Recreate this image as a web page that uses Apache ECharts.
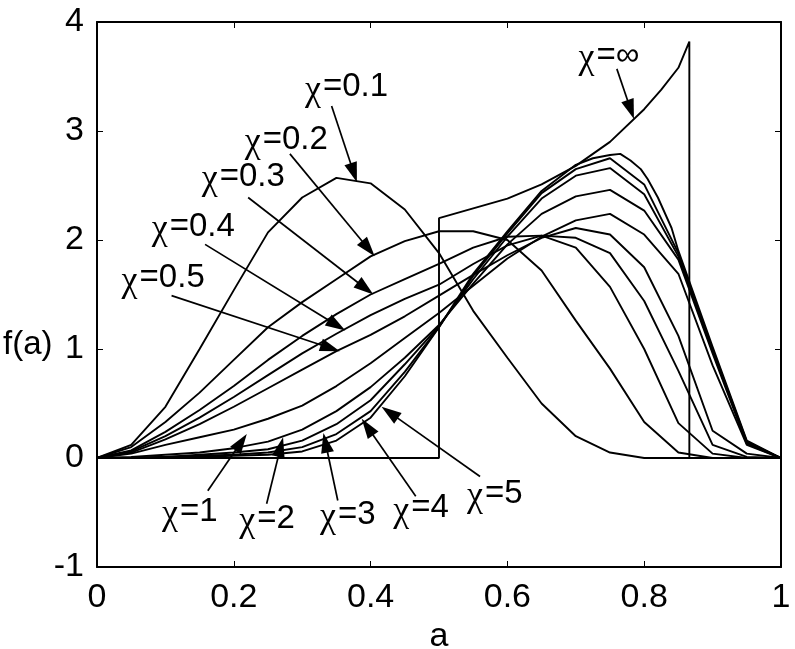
<!DOCTYPE html>
<html><head><meta charset="utf-8">
<script src="https://cdn.jsdelivr.net/npm/echarts@6/dist/echarts.min.js"></script>
<style>html,body{margin:0;padding:0;background:#fff}#c{width:795px;height:649px}</style>
</head><body><div id="c"></div>
<script>
// shared abscissa (a) for sampled curves
const A = [0,0.05,0.1,0.15,0.2,0.25,0.3,0.35,0.4,0.45,0.5,0.55,0.6,0.65,0.7,0.75,0.8,0.85,0.9,0.95,1];
const chi01 = [0,0.12,0.47,1.00,1.54,2.07,2.39,2.57,2.52,2.28,1.88,1.35,0.92,0.50,0.20,0.05,0,0,0,0,0];
const chi02 = [0,0.10,0.33,0.60,0.90,1.20,1.43,1.64,1.85,1.99,2.08,2.08,2.00,1.72,1.26,0.82,0.33,0.05,0,0,0];
const chi03 = [0,0.07,0.24,0.44,0.66,0.90,1.12,1.32,1.50,1.64,1.78,1.93,2.03,2.04,1.93,1.57,1.00,0.32,0.04,0,0];
const chi04 = [0,0.06,0.20,0.37,0.56,0.76,0.96,1.14,1.31,1.46,1.59,1.78,1.95,2.04,2.02,1.88,1.44,0.80,0.12,0.01,0];
const chi05 = [0,0.05,0.17,0.31,0.47,0.64,0.81,0.98,1.13,1.30,1.49,1.68,1.86,2.02,2.11,2.05,1.75,1.12,0.25,0.04,0];
const chi1  = [0,0.04,0.12,0.19,0.26,0.36,0.48,0.66,0.87,1.10,1.33,1.58,1.83,2.03,2.18,2.24,2.05,1.69,0.85,0.12,0];
const chi2  = [0,0.01,0.03,0.05,0.09,0.15,0.26,0.43,0.65,0.92,1.22,1.60,1.96,2.24,2.40,2.46,2.27,1.82,0.96,0.13,0];
const chi3  = [0,0,0.01,0.03,0.05,0.08,0.16,0.31,0.53,0.86,1.21,1.64,2.03,2.38,2.59,2.66,2.42,1.85,0.98,0.14,0];
const chi4  = [0,0,0.01,0.02,0.03,0.05,0.10,0.22,0.43,0.79,1.20,1.67,2.06,2.43,2.65,2.75,2.51,1.88,1.00,0.15,0];
// chi = 5 has a finer sampling near its peak
const A5   = [0,0.05,0.1,0.15,0.2,0.25,0.3,0.35,0.4,0.45,0.5,0.55,0.6,0.65,0.7,0.725,0.75,0.765,0.78,0.795,0.805,0.82,0.84,0.85,0.9,0.95,1];
const chi5 = [0,0,0.01,0.01,0.02,0.03,0.06,0.16,0.37,0.75,1.20,1.69,2.08,2.45,2.69,2.75,2.78,2.79,2.73,2.65,2.56,2.39,2.11,1.90,1.02,0.16,0];
// chi = infinity
const Ainf   = [0,0.5,0.5,0.55,0.6,0.65,0.7,0.75,0.8,0.825,0.85,0.866,0.866,1];
const chiInf = [0,0,2.2,2.29,2.38,2.51,2.68,2.90,3.20,3.38,3.58,3.82,0,0];

const xTickLabels = ['0','0.2','0.4','0.6','0.8','1'];
const yTickLabels = ['-1','0','1','2','3','4'];

// annotations (data units)
const labelText = ['χ=0.1','χ=0.2','χ=0.3','χ=0.4','χ=0.5','χ=1','χ=2','χ=3','χ=4','χ=5','χ=∞'];
const labelX = [0.304,0.216,0.153,0.080,0.036,0.095,0.208,0.326,0.433,0.541,0.704];
const labelY = [3.40,2.92,2.58,2.12,1.65,-0.49,-0.56,-0.52,-0.46,-0.33,3.69];
const arrowX0 = [0.343,0.282,0.221,0.158,0.109,0.162,0.248,0.352,0.466,0.560,0.760];
const arrowY0 = [3.23,2.79,2.39,1.96,1.49,-0.30,-0.42,-0.39,-0.35,-0.17,3.57];
const arrowX1 = [0.380,0.406,0.404,0.363,0.355,0.219,0.272,0.331,0.387,0.416,0.785];
const arrowY1 = [2.53,1.85,1.50,1.17,0.98,0.22,0.19,0.23,0.36,0.47,3.11];

const FONT = '"Liberation Sans", Arial, sans-serif';
const curves = [
  ['χ=0.1', A, chi01], ['χ=0.2', A, chi02], ['χ=0.3', A, chi03], ['χ=0.4', A, chi04],
  ['χ=0.5', A, chi05], ['χ=1', A, chi1], ['χ=2', A, chi2], ['χ=3', A, chi3],
  ['χ=4', A, chi4], ['χ=5', A5, chi5], ['χ=∞', Ainf, chiInf]
];

const series = curves.map(c => ({
  type: 'line', name: c[0], xAxisIndex: 0, yAxisIndex: 0,
  data: c[1].map((x, i) => [x, c[2][i]]),
  showSymbol: false, symbol: 'none', smooth: false,
  lineStyle: { color: '#000', width: 1.9 }, silent: true, z: 3
}));

series.push({
  type: 'custom', xAxisIndex: 0, yAxisIndex: 0, silent: true, clip: false, z: 5,
  data: arrowX0.map((x, i) => [x, arrowY0[i], arrowX1[i], arrowY1[i]]),
  encode: { x: [0, 2], y: [1, 3] },
  renderItem: function (params, api) {
    const p1 = api.coord([api.value(0), api.value(1)]);
    const p2 = api.coord([api.value(2), api.value(3)]);
    const dx = p2[0] - p1[0], dy = p2[1] - p1[1];
    const len = Math.hypot(dx, dy), ux = dx / len, uy = dy / len;
    const L = 20, W = 6.5;
    const bx = p2[0] - ux * L, by = p2[1] - uy * L;
    return { type: 'group', children: [
      { type: 'line', shape: { x1: p1[0], y1: p1[1], x2: bx + ux * 2, y2: by + uy * 2 },
        style: { stroke: '#000', lineWidth: 1.7 } },
      { type: 'polygon', shape: { points: [[p2[0], p2[1]], [bx - uy * W, by + ux * W], [bx + uy * W, by - ux * W]] },
        style: { fill: '#000' } }
    ]};
  }
});

series.push({
  type: 'custom', xAxisIndex: 0, yAxisIndex: 0, silent: true, clip: false, z: 6,
  data: labelX.map((x, i) => [x, labelY[i], i]),
  encode: { x: 0, y: 1 },
  renderItem: function (params, api) {
    const p = api.coord([api.value(0), api.value(1)]);
    const t = labelText[api.value(2)].replace('χ', '{c|χ}');
    return { type: 'text', x: p[0], y: p[1],
      style: { text: t, font: '33px ' + FONT, fill: '#000', align: 'left', verticalAlign: 'middle',
        rich: { c: { fontFamily: '"Liberation Serif", serif', fontSize: 36, fill: '#000', padding: [6, 2, 0, 0] } } } };
  }
});

const axisLineStyle = { color: '#000', width: 2 };
const option = {
  animation: false,
  backgroundColor: '#fff',
  grid: { left: 97, right: 14, top: 22, bottom: 82, containLabel: false, outerBoundsMode: 'none' },
  xAxis: [
    { type: 'value', min: 0, max: 1, interval: 0.2, position: 'bottom',
      axisLine: { show: true, onZero: false, lineStyle: axisLineStyle },
      axisTick: { show: true, inside: true, length: 6, lineStyle: { color: '#000', width: 1 } },
      axisLabel: { show: true, color: '#000', fontSize: 34, fontFamily: FONT, margin: 14,
        formatter: v => xTickLabels[Math.round(v / 0.2)] },
      splitLine: { show: false },
      name: 'a', nameLocation: 'middle', nameGap: 44,
      nameTextStyle: { color: '#000', fontSize: 34, fontFamily: FONT } },
    { type: 'value', min: 0, max: 1, interval: 0.2, position: 'top',
      axisLine: { show: true, onZero: false, lineStyle: axisLineStyle },
      axisTick: { show: true, inside: true, length: 6, lineStyle: { color: '#000', width: 1 } },
      axisLabel: { show: false }, splitLine: { show: false } }
  ],
  yAxis: [
    { type: 'value', min: -1, max: 4, interval: 1, position: 'left',
      axisLine: { show: true, onZero: false, lineStyle: axisLineStyle },
      axisTick: { show: true, inside: true, length: 6, lineStyle: { color: '#000', width: 1 } },
      axisLabel: { show: true, color: '#000', fontSize: 34, fontFamily: FONT, margin: 13,
        formatter: v => yTickLabels[Math.round(v + 1)] },
      splitLine: { show: false } },
    { type: 'value', min: -1, max: 4, interval: 1, position: 'right',
      axisLine: { show: true, onZero: false, lineStyle: axisLineStyle },
      axisTick: { show: true, inside: true, length: 6, lineStyle: { color: '#000', width: 1 } },
      axisLabel: { show: false }, splitLine: { show: false } }
  ],
  graphic: [
    { type: 'text', x: 3, y: 345, style: { text: 'f(a)', font: '33px ' + FONT, fill: '#000', verticalAlign: 'middle' } }
  ],
  series: series
};
const chart = echarts.init(document.getElementById('c'), null, { renderer: 'canvas' });
chart.setOption(option);
</script>
</body></html>
